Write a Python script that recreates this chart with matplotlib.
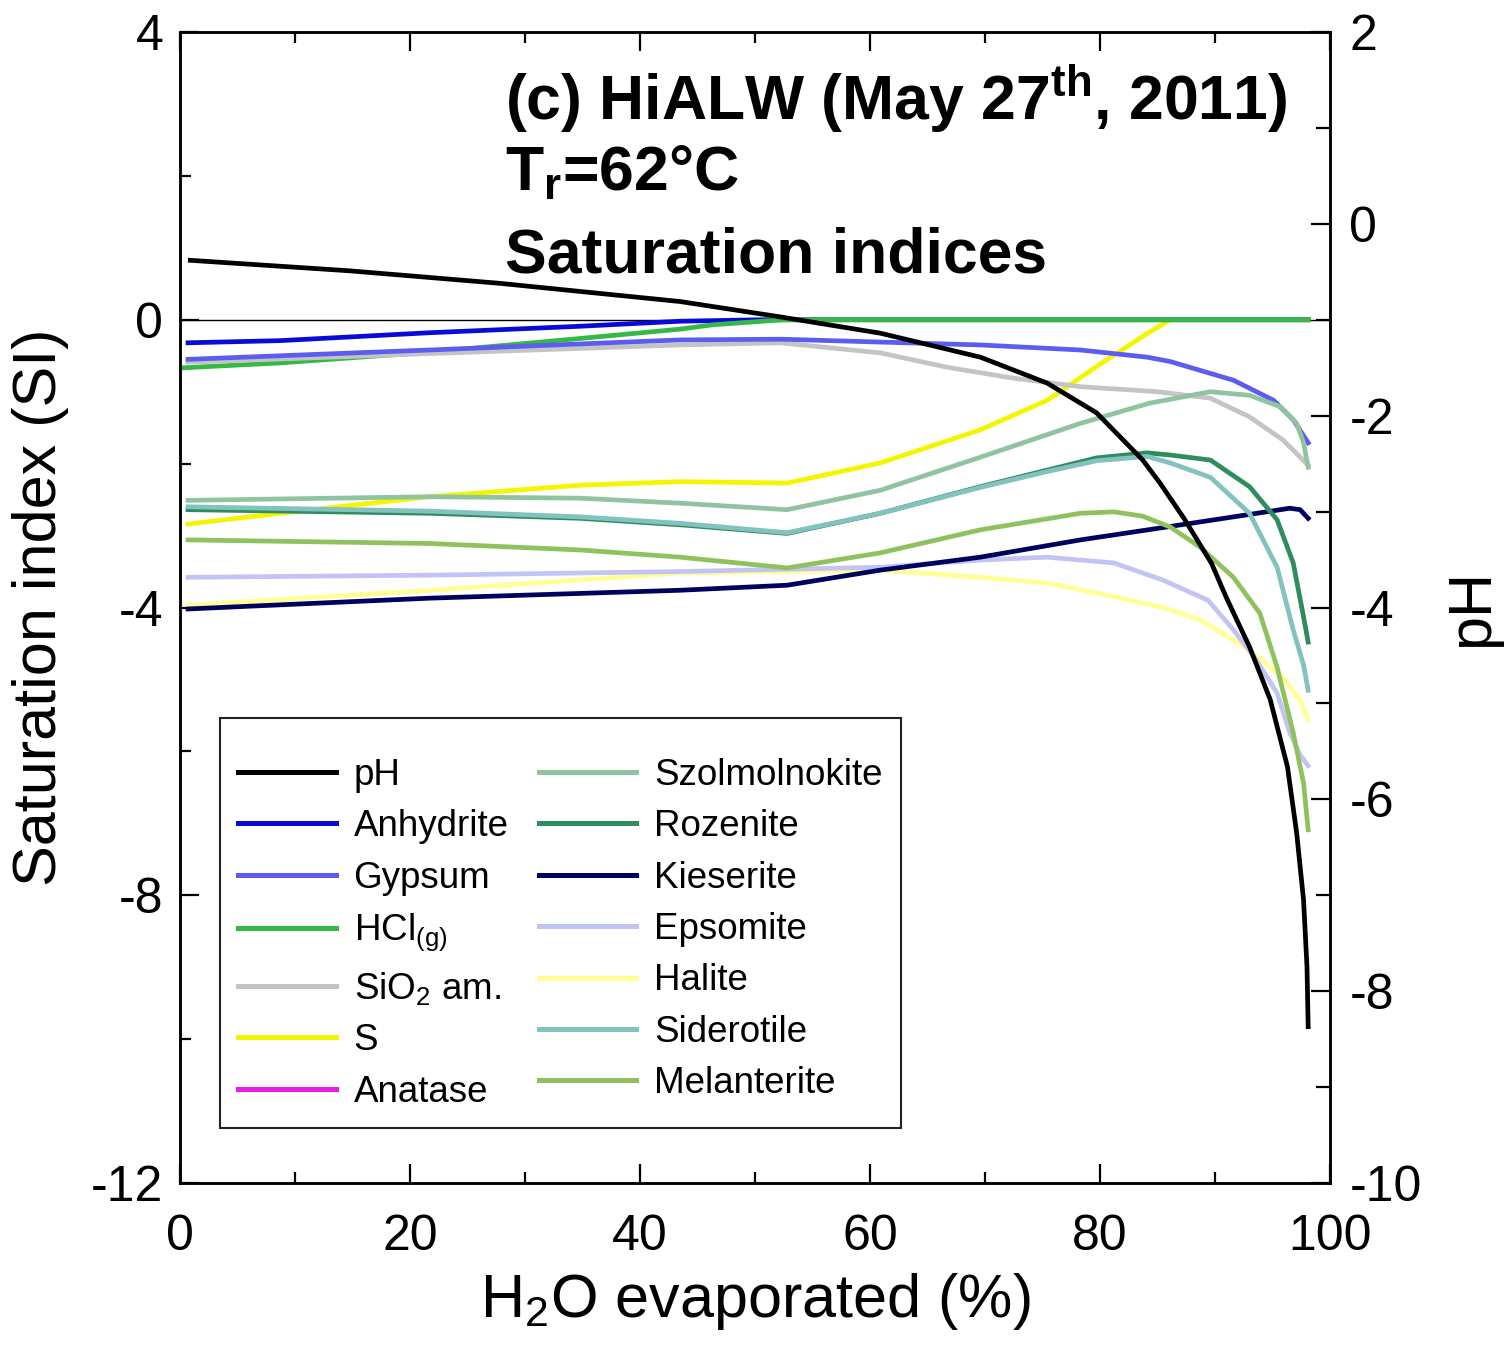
import matplotlib
matplotlib.use("Agg")
import matplotlib.pyplot as plt
from matplotlib.ticker import MultipleLocator

plt.rcParams['font.family'] = ['Liberation Sans', 'DejaVu Sans']
plt.rcParams['mathtext.fontset'] = 'custom'
plt.rcParams['mathtext.rm'] = 'Liberation Sans'
plt.rcParams['mathtext.it'] = 'Liberation Sans:italic'
plt.rcParams['mathtext.bf'] = 'Liberation Sans:bold'
plt.rcParams['axes.unicode_minus'] = False

# ---------------- data ----------------
ph_x = [0.9, 14.8, 27.8, 43.5, 52.2, 60.9, 69.6, 75.4, 79.7, 83.7, 85.2, 87.3, 89.7,
        91.0, 91.9, 93.0, 94.8, 96.3, 97.1, 97.7, 98.0, 98.1]
ph_val = [-0.38, -0.49, -0.62, -0.81, -0.97, -1.14, -1.39, -1.66, -1.97, -2.46,
          -2.70, -3.07, -3.54, -3.90, -4.13, -4.41, -4.96, -5.66, -6.35, -7.05,
          -7.75, -8.37]

anhydrite_x = [0.7, 8.7, 21.7, 34.8, 43.5, 50.4, 98.1]
anhydrite_si = [-0.32, -0.29, -0.18, -0.09, -0.02, 0.0, 0.0]

gypsum_x = [0.7, 21.7, 43.5, 52.2, 60.9, 69.6, 78.3, 84.1, 86.1, 91.6, 95.1, 96.8, 98.1]
gypsum_si = [-0.55, -0.42, -0.28, -0.27, -0.31, -0.35, -0.42, -0.52, -0.58, -0.84,
             -1.12, -1.39, -1.71]

hcl_x = [0.0, 8.7, 21.7, 34.8, 43.5, 46.3, 52.4, 98.1]
hcl_si = [-0.67, -0.60, -0.45, -0.26, -0.13, -0.07, 0.0, 0.0]

sio2_x = [0.7, 21.7, 43.5, 52.2, 60.9, 66.7, 72.4, 78.3, 85.0, 89.6, 93.0, 95.9, 98.1]
sio2_si = [-0.59, -0.47, -0.35, -0.32, -0.46, -0.66, -0.81, -0.93, -1.00, -1.09,
           -1.35, -1.67, -2.02]

s_x = [0.7, 8.7, 21.7, 34.8, 43.5, 52.8, 60.9, 69.6, 75.4, 79.7, 84.1, 86.1, 98.1]
s_si = [-2.84, -2.69, -2.46, -2.30, -2.25, -2.27, -1.99, -1.53, -1.12, -0.65,
        -0.19, 0.0, 0.0]

anatase_x = []   # not within the plotted SI range
anatase_si = []

szolmolnokite_x = [0.7, 21.7, 34.8, 43.5, 52.8, 60.9, 69.6, 78.3, 84.3, 89.6, 93.0,
                   95.7, 97.1, 97.7, 98.1]
szolmolnokite_si = [-2.51, -2.46, -2.48, -2.55, -2.64, -2.37, -1.91, -1.44, -1.16,
                    -1.00, -1.05, -1.21, -1.44, -1.71, -2.05]

rozenite_x = [0.7, 21.7, 34.8, 43.5, 52.8, 60.9, 69.6, 75.4, 79.7, 84.1, 86.1, 89.6,
              93.0, 95.4, 96.8, 97.7, 98.1]
rozenite_si = [-2.64, -2.69, -2.76, -2.85, -2.97, -2.69, -2.32, -2.09, -1.92, -1.85,
               -1.88, -1.95, -2.32, -2.78, -3.38, -4.13, -4.48]

kieserite_x = [0.7, 21.7, 43.5, 52.8, 60.9, 69.6, 78.3, 85.0, 91.6, 96.5, 97.4, 98.1]
kieserite_si = [-4.02, -3.87, -3.76, -3.69, -3.48, -3.30, -3.06, -2.90, -2.74, -2.62,
                -2.64, -2.76]

epsomite_x = [0.7, 21.7, 43.5, 60.9, 69.6, 75.4, 81.2, 85.5, 89.4, 91.6, 93.6, 95.4,
              96.5, 97.4, 98.1]
epsomite_si = [-3.58, -3.55, -3.50, -3.44, -3.34, -3.30, -3.38, -3.62, -3.90, -4.31,
               -4.73, -5.19, -5.74, -6.05, -6.20]

halite_x = [0.7, 21.7, 43.5, 52.8, 60.9, 69.6, 75.4, 81.2, 85.5, 88.7, 93.0, 95.9,
            97.4, 98.1]
halite_si = [-3.97, -3.76, -3.52, -3.50, -3.48, -3.58, -3.66, -3.85, -4.00, -4.17,
             -4.59, -4.97, -5.29, -5.56]

siderotile_x = [0.7, 21.7, 34.8, 43.5, 52.8, 60.9, 69.6, 75.4, 79.7, 84.1, 86.1, 89.6,
                93.0, 95.4, 96.8, 97.7, 98.1]
siderotile_si = [-2.60, -2.66, -2.74, -2.83, -2.96, -2.69, -2.33, -2.11, -1.96, -1.90,
                 -1.99, -2.19, -2.69, -3.44, -4.31, -4.80, -5.15]

melanterite_x = [0.7, 21.7, 34.8, 43.5, 52.8, 60.9, 69.6, 78.3, 81.2, 83.7, 86.1, 88.7,
                 91.6, 93.9, 95.4, 96.8, 97.7, 98.1]
melanterite_si = [-3.06, -3.11, -3.20, -3.30, -3.45, -3.24, -2.92, -2.69, -2.67, -2.73,
                  -2.88, -3.16, -3.58, -4.08, -4.83, -5.74, -6.44, -7.09]

x_ticks = [0, 20, 40, 60, 80, 100]
si_ticks = [4, 0, -4, -8, -12]
ph_ticks = [2, 0, -2, -4, -6, -8, -10]

# ---------------- figure ----------------
fig = plt.figure(figsize=(15.10, 13.46), dpi=100)
ax = fig.add_axes([0.1192, 0.1211, 0.7616, 0.8551])
ax2 = ax.twinx()

ax.axhline(0, color='black', lw=1.0, zorder=1)

series = [
    ("Anhydrite", anhydrite_x, anhydrite_si, "#0a0ad8"),
    ("Gypsum", gypsum_x, gypsum_si, "#5c5cf0"),
    ("HCl$_\\mathrm{(g)}$", hcl_x, hcl_si, "#35b845"),
    ("SiO$_\\mathrm{2}$ am.", sio2_x, sio2_si, "#c4c4c4"),
    ("S", s_x, s_si, "#f5f500"),
    ("Anatase", anatase_x, anatase_si, "#e81ce8"),
    ("Szolmolnokite", szolmolnokite_x, szolmolnokite_si, "#8fc49f"),
    ("Rozenite", rozenite_x, rozenite_si, "#2f8c5e"),
    ("Kieserite", kieserite_x, kieserite_si, "#00005e"),
    ("Epsomite", epsomite_x, epsomite_si, "#c4c4f4"),
    ("Halite", halite_x, halite_si, "#ffff96"),
    ("Siderotile", siderotile_x, siderotile_si, "#82c3c0"),
    ("Melanterite", melanterite_x, melanterite_si, "#8fc25f"),
]

LW = 3.4
ph_line, = ax2.plot(ph_x, ph_val, color='black', lw=LW, label='pH',
                    solid_joinstyle='round')
draw_order = ["S", "Anhydrite", "HCl$_\\mathrm{(g)}$", "SiO$_\\mathrm{2}$ am.", "Gypsum",
              "Anatase", "Halite", "Epsomite", "Kieserite", "Melanterite",
              "Szolmolnokite", "Rozenite", "Siderotile"]
made = {}
for name in draw_order:
    for (lab, xs, ys, col) in series:
        if lab == name:
            ln, = ax.plot(xs, ys, color=col, lw=LW, label=lab,
                          solid_joinstyle='round')
            made[lab] = ln
handles = [ph_line] + [made[lab] for (lab, _, _, _) in series]

# axes limits & ticks
ax.set_xlim(0, 100)
ax.set_ylim(-12, 4)
ax2.set_ylim(-10, 2)
ax.set_xticks(x_ticks)
ax.set_yticks(si_ticks)
ax2.set_yticks(ph_ticks)
ax.xaxis.set_minor_locator(MultipleLocator(10))
ax.yaxis.set_minor_locator(MultipleLocator(2))
ax2.yaxis.set_minor_locator(MultipleLocator(1))

ax.tick_params(axis='both', which='major', direction='in', length=14, width=1.6,
               labelsize=36)
ax.tick_params(axis='x', which='major', pad=22)
ax.tick_params(axis='y', which='major', pad=12)
ax.tick_params(axis='both', which='minor', direction='in', length=8, width=1.6)
ax.tick_params(axis='x', which='both', top=True, bottom=True)
ax.tick_params(axis='y', which='both', left=True, right=False)
ax2.tick_params(axis='y', which='major', direction='in', length=14, width=1.6,
                labelsize=36, pad=14)
ax2.tick_params(axis='y', which='minor', direction='in', length=10, width=1.6)

for a in (ax, ax2):
    for sp in a.spines.values():
        sp.set_linewidth(1.8)

ax.set_xlabel("H$_\\mathrm{2}$O evaporated (%)", fontsize=44, labelpad=8)
ax.set_ylabel("Saturation index (SI)", fontsize=44, labelpad=16)
ax2.set_ylabel("pH", fontsize=44, labelpad=16, rotation=90)

# title block
ax2.text(0.283, 0.9235, "(c) HiALW (May 27$^\\mathbf{th}$, 2011)", transform=ax.transAxes,
         fontsize=45, fontweight='bold', ha='left', va='baseline')
ax2.text(0.283, 0.8627, "T$_\\mathbf{r}$=62°C", transform=ax.transAxes,
         fontsize=45, fontweight='bold', ha='left', va='baseline')
ax2.text(0.283, 0.7915, "Saturation indices", transform=ax.transAxes,
         fontsize=45, fontweight='bold', ha='left', va='baseline')

labels = [h.get_label() for h in handles]
leg = ax2.legend(handles, labels, ncol=2, loc='lower left',
                 bbox_to_anchor=(0.0348, 0.0478), fontsize=26.5, frameon=True,
                 fancybox=False, edgecolor='#222222', framealpha=1.0,
                 handlelength=2.64, handletextpad=0.49, columnspacing=0.82,
                 labelspacing=0.445, borderpad=0.5, borderaxespad=0,
                 title=' ', title_fontsize=4)
leg.get_frame().set_linewidth(1.5)
for lh in leg.get_lines():
    lh.set_linewidth(3.6)

fig.savefig("out.png", dpi=100)
